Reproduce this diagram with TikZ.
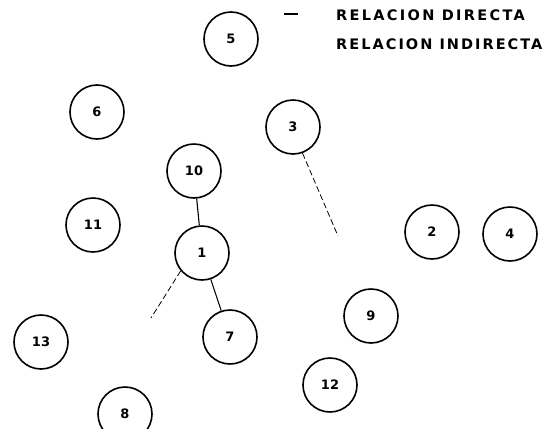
\documentclass[tikz,border=0pt]{standalone}
\usepackage{fontspec}
\setmainfont{Liberation Sans}
\newfontfamily\legendfont{DejaVu Sans}
\begin{document}
\begin{tikzpicture}[x=1pt,y=-1pt,
  nodecirc/.style={circle,draw,line width=1.6pt,minimum size=54pt,inner sep=0pt,font=\legendfont\bfseries\fontsize{13}{13}\selectfont},
  direct/.style={line width=1.1pt},
  indirect/.style={line width=0.8pt,dash pattern=on 6pt off 3pt},
  legend/.style={anchor=west,inner sep=0pt,font=\legendfont\bfseries\fontsize{14.5}{14.5}\selectfont\addfontfeature{LetterSpace=16}},
  legendb/.style={anchor=west,inner sep=0pt,font=\legendfont\bfseries\fontsize{14.5}{14.5}\selectfont\addfontfeature{LetterSpace=14}}]
\useasboundingbox (0,0) rectangle (547,429);
\begin{scope}
\clip (0,0) rectangle (547,429);
\node[nodecirc] (n5) at (231,39) {5};
\node[nodecirc] (n6) at (97,112) {6};
\node[nodecirc] (n3) at (293,127) {3};
\node[nodecirc] (n10) at (194,171) {10};
\node[nodecirc] (n11) at (93,225) {11};
\node[nodecirc] (n1) at (202,253) {1};
\node[nodecirc] (n2) at (432,232) {2};
\node[nodecirc] (n4) at (510,234) {4};
\node[nodecirc] (n9) at (371,316) {9};
\node[nodecirc] (n7) at (230,337) {7};
\node[nodecirc] (n13) at (41,342) {13};
\node[nodecirc] (n12) at (330,385) {12};
\node[nodecirc] (n8) at (125,414) {8};
\end{scope}
\coordinate (e3) at (338,236);
\coordinate (e1) at (151,318);
\draw[direct] (n10) -- (n1);
\draw[direct] (n1) -- (n7);
\draw[indirect] (n3.-70) -- (e3);
\draw[indirect] (n1.-140) -- (e1);
\coordinate (l1a) at (284,14);
\coordinate (l1b) at (298,14);
\draw[direct] (l1a) -- (l1b);
\node[legend] (t1) at (336,15) {RELACION DIRECTA};
\node[legendb] (t2) at (336,44) {RELACION INDIRECTA};
\end{tikzpicture}
\end{document}
